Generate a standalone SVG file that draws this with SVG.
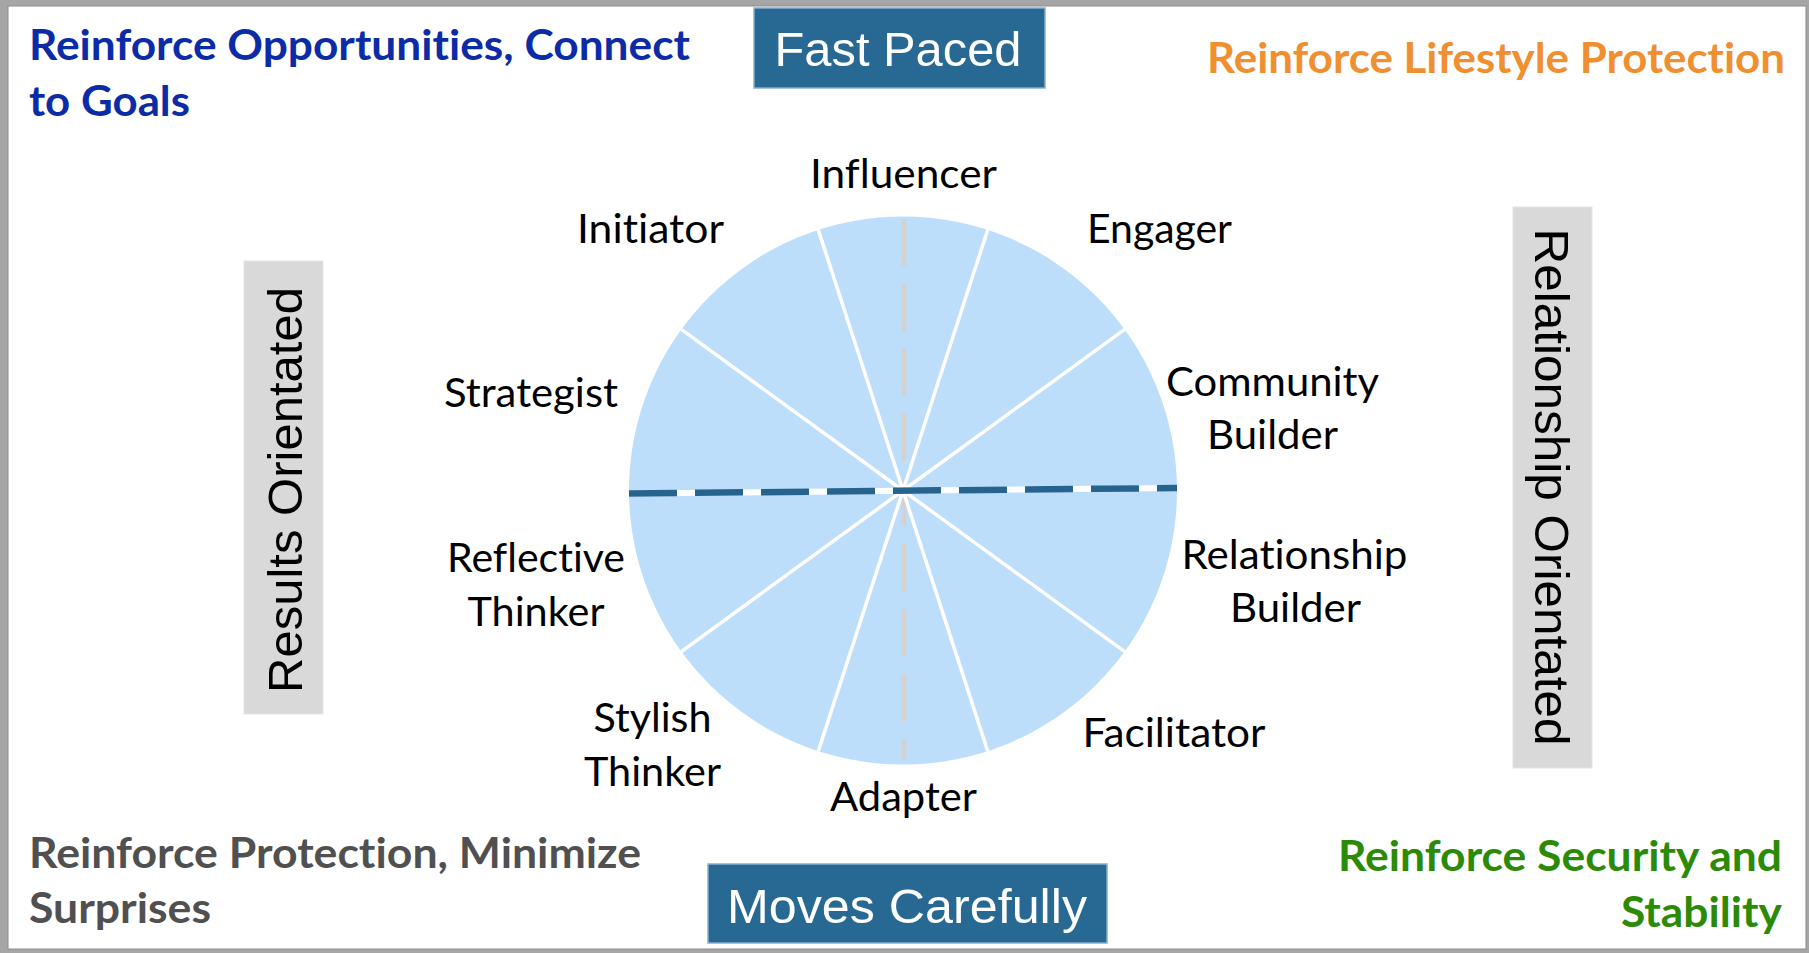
<svg xmlns="http://www.w3.org/2000/svg" width="1809" height="953" viewBox="0 0 1809 953">
  <style>
    text { font-variant-ligatures: none; font-feature-settings: "liga" 0, "clig" 0; }
    .head { font-family: Lato, "Open Sans", sans-serif; font-weight: 700; font-size: 42px; }
    .blue { fill: #0b2ca6; }
    .orange { fill: #ef8f2f; }
    .grey { fill: #505050; }
    .green { fill: #2b8a06; }
    .lbl { font-family: Lato, "Open Sans", sans-serif; font-size: 40.5px; fill: #000; text-anchor: middle; }
    .tag { fill: #286994; stroke: #86aecf; stroke-width: 1.5; }
    .tagtxt { font-family: "Liberation Sans", Arial, sans-serif; font-size: 49px; fill: #fff; text-anchor: middle; }
    .side { fill: #d9d9d9; stroke: #e4e4e4; stroke-width: 1; }
    .sidetxt { font-family: "Liberation Sans", Arial, sans-serif; font-size: 49px; fill: #000; text-anchor: middle; }
    .divider { stroke: #ffffff; stroke-width: 3.5; stroke-linecap: butt; }
  </style>

  <!-- sheet frame -->
  <g id="frame">
    <rect x="0" y="0" width="1809" height="953" fill="#a6a6a6"/>
    <rect x="8" y="6" width="1798" height="943" fill="#ffffff" stroke="#8c8c8c" stroke-width="1"/>
  </g>

  <!-- quadrant headings -->
  <g id="heading-opportunities">
    <text class="head blue" x="29" y="60" textLength="661" lengthAdjust="spacingAndGlyphs">Reinforce Opportunities, Connect</text>
    <text class="head blue" x="29" y="116" textLength="161" lengthAdjust="spacingAndGlyphs">to Goals</text>
  </g>
  <g id="heading-lifestyle">
    <text class="head orange" x="1207" y="73" textLength="578" lengthAdjust="spacingAndGlyphs">Reinforce Lifestyle Protection</text>
  </g>
  <g id="heading-protection">
    <text class="head grey" x="29" y="868" textLength="612" lengthAdjust="spacingAndGlyphs">Reinforce Protection, Minimize</text>
    <text class="head grey" x="29" y="923" textLength="182" lengthAdjust="spacingAndGlyphs">Surprises</text>
  </g>
  <g id="heading-security">
    <text class="head green" x="1782" y="871" text-anchor="end" textLength="444" lengthAdjust="spacingAndGlyphs">Reinforce Security and</text>
    <text class="head green" x="1782" y="927" text-anchor="end" textLength="161" lengthAdjust="spacingAndGlyphs">Stability</text>
  </g>

  <!-- pace tags -->
  <g id="tag-fast-paced">
    <rect class="tag" x="754" y="8" width="291" height="80"/>
    <text class="tagtxt" x="898" y="66" textLength="247" lengthAdjust="spacingAndGlyphs">Fast Paced</text>
  </g>
  <g id="tag-moves-carefully">
    <rect class="tag" x="708" y="864" width="399" height="79"/>
    <text class="tagtxt" x="907" y="923" textLength="360" lengthAdjust="spacingAndGlyphs">Moves Carefully</text>
  </g>

  <!-- orientation tags -->
  <g id="tag-results">
    <rect class="side" x="244" y="261" width="79" height="453"/>
    <text class="sidetxt" transform="translate(301.5 490) rotate(-90)" x="0" y="0" textLength="406" lengthAdjust="spacingAndGlyphs">Results Orientated</text>
  </g>
  <g id="tag-relationship">
    <rect class="side" x="1513" y="207" width="79" height="561"/>
    <text class="sidetxt" transform="translate(1534.5 487) rotate(90)" x="0" y="0" textLength="517" lengthAdjust="spacingAndGlyphs">Relationship Orientated</text>
  </g>

  <!-- style wheel -->
  <g id="wheel">
    <circle cx="903" cy="490.5" r="274" fill="#bddefb"/>
  </g>

  <!-- axes and segment dividers -->
  <g id="connectors">
    <line x1="904" y1="219" x2="904" y2="760" stroke="#d2d2d2" stroke-width="5" stroke-dasharray="47 18"/>
    <g class="divider">
      <line x1="903" y1="490.5" x2="987.7" y2="229.9"/>
      <line x1="903" y1="490.5" x2="818.3" y2="229.9"/>
      <line x1="903" y1="490.5" x2="1124.7" y2="329.4"/>
      <line x1="903" y1="490.5" x2="681.3" y2="329.4"/>
      <line x1="903" y1="490.5" x2="1124.7" y2="651.6"/>
      <line x1="903" y1="490.5" x2="681.3" y2="651.6"/>
      <line x1="903" y1="490.5" x2="987.7" y2="751.1"/>
      <line x1="903" y1="490.5" x2="818.3" y2="751.1"/>
    </g>
    <line x1="629" y1="493.5" x2="1177" y2="488" stroke="#ffffff" stroke-width="6"/>
    <line x1="629" y1="493.5" x2="1177" y2="488" stroke="#27638f" stroke-width="6.5" stroke-dasharray="48 18"/>
  </g>

  <!-- segment labels -->
  <g id="label-influencer"><text class="lbl" x="903.5" y="188" textLength="187" lengthAdjust="spacingAndGlyphs">Influencer</text></g>
  <g id="label-engager"><text class="lbl" x="1159.5" y="243" textLength="145" lengthAdjust="spacingAndGlyphs">Engager</text></g>
  <g id="label-community-builder">
    <text class="lbl" x="1272.5" y="396" textLength="213" lengthAdjust="spacingAndGlyphs">Community</text>
    <text class="lbl" x="1272.5" y="449" textLength="131" lengthAdjust="spacingAndGlyphs">Builder</text>
  </g>
  <g id="label-relationship-builder">
    <text class="lbl" x="1294.5" y="569" textLength="226" lengthAdjust="spacingAndGlyphs">Relationship</text>
    <text class="lbl" x="1295.5" y="622" textLength="131" lengthAdjust="spacingAndGlyphs">Builder</text>
  </g>
  <g id="label-facilitator"><text class="lbl" x="1174" y="746.5" textLength="183" lengthAdjust="spacingAndGlyphs">Facilitator</text></g>
  <g id="label-adapter"><text class="lbl" x="903.5" y="811" textLength="147" lengthAdjust="spacingAndGlyphs">Adapter</text></g>
  <g id="label-stylish-thinker">
    <text class="lbl" x="652.5" y="732" textLength="118" lengthAdjust="spacingAndGlyphs">Stylish</text>
    <text class="lbl" x="652.5" y="786" textLength="137" lengthAdjust="spacingAndGlyphs">Thinker</text>
  </g>
  <g id="label-reflective-thinker">
    <text class="lbl" x="536" y="572" textLength="178" lengthAdjust="spacingAndGlyphs">Reflective</text>
    <text class="lbl" x="536" y="626" textLength="137" lengthAdjust="spacingAndGlyphs">Thinker</text>
  </g>
  <g id="label-strategist"><text class="lbl" x="531" y="407" textLength="174" lengthAdjust="spacingAndGlyphs">Strategist</text></g>
  <g id="label-initiator"><text class="lbl" x="650.5" y="243" textLength="147" lengthAdjust="spacingAndGlyphs">Initiator</text></g>
</svg>
